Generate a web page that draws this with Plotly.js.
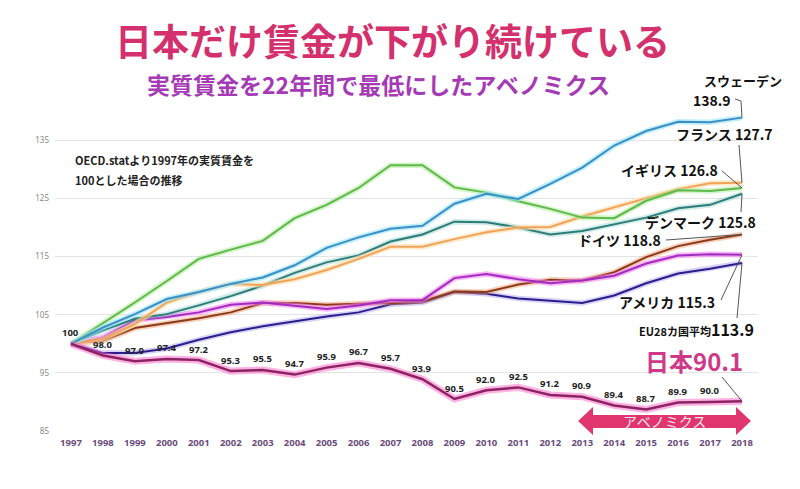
<!DOCTYPE html>
<html><head><meta charset="utf-8">
<script src="https://cdn.plot.ly/plotly-3.0.1.min.js"></script>
<style>body{margin:0;background:#fff}#chart{width:800px;height:489px}</style>
</head><body><div id="chart"></div>
<script>
const years = [1997,1998,1999,2000,2001,2002,2003,2004,2005,2006,2007,2008,2009,2010,2011,2012,2013,2014,2015,2016,2017,2018];
const sweden  = [100,102.8,105.1,107.7,108.9,110.3,111.4,113.5,116.5,118.3,119.8,120.3,124.1,125.8,124.9,127.5,130.3,134.1,136.6,138.2,138.1,138.9];
const uk      = [100,103.5,107.1,110.8,114.6,116.2,117.7,121.6,123.9,126.8,130.7,130.7,126.9,126.0,124.5,123.2,121.7,121.6,124.6,126.4,126.3,126.8];
const france  = [100,100.8,103.4,107.1,108.9,110.3,110.1,111.1,112.7,114.6,116.7,116.7,118.0,119.2,120.0,120.1,121.9,123.5,125.1,126.6,127.6,127.7];
const denmark = [100,102.3,104.3,105.1,106.6,108.2,110.0,112.2,114.0,115.2,117.6,118.8,121.0,120.9,120.0,118.8,119.4,120.6,121.7,123.3,123.9,125.8];
const germany = [100,100.5,102.7,103.5,104.4,105.4,107.0,107.0,106.7,106.9,107.0,107.3,109.0,108.9,110.2,111.0,110.9,112.3,114.9,116.8,117.9,118.8];
const usa     = [100,101.1,104.0,104.6,105.4,106.7,107.1,106.6,106.0,106.6,107.5,107.5,111.3,112.0,111.1,110.4,110.9,111.7,113.8,115.2,115.4,115.3];
const eu28    = [100,98.4,98.4,99.2,100.7,102.0,103.0,103.9,104.7,105.4,106.8,107.1,108.9,108.6,107.8,107.4,107.0,108.3,110.4,112.1,112.9,113.9];
const japan   = [100,98.0,97.0,97.4,97.2,95.3,95.5,94.7,95.9,96.7,95.7,93.9,90.5,92.0,92.5,91.2,90.9,89.4,88.7,89.9,90.0,90.1];
const yTicks  = [85,95,105,115,125,135];
const names = {sweden:'スウェーデン', france:'フランス', uk:'イギリス', denmark:'デンマーク', germany:'ドイツ', usa:'アメリカ', eu28:'EU28カ国平均', japan:'日本'};

const last = a => a[a.length-1];
const X0 = 1996.5, X1 = 2018.5, Y0 = 85, Y1 = 141.07;
const L = 55, R = 758, T = 105, B = 431;
const px = p => (p - L) / (R - L);
const py = p => (B - p) / (B - T);
const dx = x => (x - X0) / (X1 - X0);
const dy = y => (y - Y0) / (Y1 - Y0);

function line(y, color, glow, w) {
  const t = [];
  if (glow) t.push({x: years, y: y, mode: 'lines', line: {color: glow, width: w + 3.5}, hoverinfo: 'skip'});
  t.push({x: years, y: y, mode: 'lines', line: {color: color, width: w}});
  return t;
}
const traces = [
  ...line(eu28, '#2b1d8c', 'rgba(140,130,230,0.35)', 2),
  ...line(germany, '#8a3a1c', 'rgba(240,150,100,0.45)', 2),
  ...line(usa, '#a02cc0', 'rgba(245,120,240,0.55)', 2),
  ...line(denmark, '#2d7c78', 'rgba(120,200,190,0.35)', 2),
  ...line(france, '#f0a45a', 'rgba(255,220,170,0.6)', 2),
  ...line(uk, '#5fb84a', 'rgba(170,235,150,0.5)', 2),
  ...line(sweden, '#3d8ec4', 'rgba(150,230,250,0.6)', 2),
  {x: years, y: japan, mode: 'lines', line: {color: 'rgba(255,100,200,0.5)', width: 7}, hoverinfo: 'skip'},
  {x: years, y: japan, mode: 'lines', line: {color: '#8c2463', width: 2.5}}
];

const jp = 'Noto Sans CJK JP';
function txt(x, y, text, size, color, extra) {
  return Object.assign({xref: 'paper', yref: 'paper', x: px(x), y: py(y), text: text, showarrow: false,
    xanchor: 'center', yanchor: 'middle', font: {family: jp, size: size, color: color, weight: 'bold'}}, extra || {});
}
const jLabels = japan.slice(0, -1).map((v, i) => ({
  xref: 'x', yref: 'y', x: years[i], y: v, text: i === 0 ? '100' : v.toFixed(1), showarrow: false,
  xanchor: 'center', yanchor: 'middle', yshift: 11,
  font: {family: 'Noto Sans', size: 9.5, color: '#222', weight: 'bold'}
}));
const annotations = [
  txt(392, 40, '日本だけ賃金が下がり続けている', 37, '#d4306d'),
  txt(378, 84, '実質賃金を22年間で最低にしたアベノミクス', 23, '#a63ab5'),
  txt(73, 160, 'OECD.statより1997年の実質賃金を', 11, '#222', {xanchor: 'left'}),
  txt(73, 180, '100とした場合の推移', 11, '#222', {xanchor: 'left'}),
  txt(743, 80, names.sweden, 13, '#111'),
  txt(733, 100, last(sweden).toFixed(1), 14, '#111', {xanchor: 'right'}),
  txt(775, 134, names.france + ' ' + last(france).toFixed(1), 14, '#111', {xanchor: 'right'}),
  txt(720, 170, names.uk + ' ' + last(uk).toFixed(1), 14, '#111', {xanchor: 'right'}),
  txt(758, 222, names.denmark + ' ' + last(denmark).toFixed(1), 14, '#111', {xanchor: 'right'}),
  txt(663, 240, names.germany + ' ' + last(germany).toFixed(1), 14, '#111', {xanchor: 'right'}),
  txt(717, 302, names.usa + ' ' + last(usa).toFixed(1), 14, '#111', {xanchor: 'right'}),
  txt(756, 329, names.eu28 + '<span style="font-size:16px">' + last(eu28).toFixed(1) + '</span>', 11, '#111', {xanchor: 'right'}),
  txt(745, 360, names.japan + last(japan).toFixed(1), 24, '#cf3a88', {xanchor: 'right'}),
  txt(664, 421, 'アベノミクス', 14, '#fde6ef', {font: {family: jp, size: 14, color: '#fde6ef', weight: 'normal'}}),
  ...jLabels
];

function seg(x0, y0, x1, y1) {
  return {type: 'line', xref: 'paper', yref: 'paper', x0: x0, y0: y0, x1: x1, y1: y1,
          line: {color: '#555', width: 1}};
}
const xe = dx(last(years));
const shapes = [
  seg(px(735), py(99), px(741), py(101)),
  seg(px(741), py(101), xe, dy(last(sweden))),
  seg(px(739), py(145), xe, dy(last(france))),
  seg(px(722), py(171), xe, dy(last(uk))),
  seg(px(741), py(212), xe, dy(last(denmark))),
  seg(px(666), py(240), xe, dy(last(germany))),
  seg(px(721), py(300), xe, dy(last(usa))),
  seg(px(737), py(318), xe, dy(last(eu28))),
  seg(px(722), py(377), xe, dy(last(japan))),
  {type: 'path', xref: 'paper', yref: 'paper', fillcolor: '#e0356e', line: {width: 0},
   path: 'M' + [[578,421],[593,407],[593,415],[736,415],[736,407],[751,421],[736,435],[736,428],[593,428],[593,435]]
     .map(p => px(p[0]) + ',' + py(p[1])).join(' L') + ' Z'}
];

const layout = {
  width: 800, height: 489,
  margin: {l: L, r: 800 - R, t: T, b: 489 - B},
  paper_bgcolor: '#fff', plot_bgcolor: '#fff',
  showlegend: false,
  xaxis: {range: [X0, X1], tickvals: years, ticktext: years.map(String), showgrid: false, zeroline: false,
          showline: false, ticks: '', ticklabelstandoff: 4,
          tickfont: {family: 'Noto Sans', size: 9.5, color: '#6a4c7c', weight: 'bold'}},
  yaxis: {range: [Y0, Y1], tickvals: yTicks, ticktext: yTicks.map(String), showgrid: true, gridcolor: '#e4e4e4',
          gridwidth: 1, zeroline: false, showline: false, ticks: '', ticklabelstandoff: 5,
          tickfont: {family: 'Noto Sans', size: 8, color: '#888'}},
  annotations: annotations,
  shapes: shapes
};
Plotly.newPlot('chart', traces, layout, {displayModeBar: false, staticPlot: true});
</script>
</body></html>
